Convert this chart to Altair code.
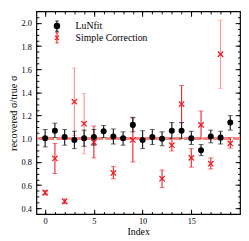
import altair as alt
import pandas as pd

# LuNfit
idx_black = list(range(20))
val_black = [1.005, 1.07, 1.015, 0.99, 1.005, 1.015, 1.065, 1.02, 1.005, 1.12,
             0.99, 1.015, 1.0, 1.07, 1.07, 1.005, 0.90, 1.02, 1.01, 1.14]
lo_black = [0.93, 1.01, 0.945, 0.915, 0.935, 0.945, 1.01, 0.955, 0.945, 1.06,
            0.915, 0.95, 0.94, 1.005, 1.005, 0.95, 0.855, 0.965, 0.955, 1.075]
hi_black = [1.08, 1.135, 1.08, 1.065, 1.075, 1.08, 1.115, 1.085, 1.06, 1.185,
            1.07, 1.08, 1.06, 1.14, 1.14, 1.065, 0.95, 1.075, 1.065, 1.20]

# Simple Correction
idx_red = [0, 1, 2, 3, 4, 5, 7, 9, 12, 13, 14, 15, 16, 17, 18, 19]
val_red = [0.535, 0.83, 0.46, 1.32, 1.13, 0.97, 0.705, 0.99, 0.655, 0.945,
           1.30, 0.835, 1.12, 0.785, 1.73, 0.96]
lo_red = [0.515, 0.70, 0.44, 1.03, 0.87, 0.835, 0.655, 0.80, 0.58, 0.895,
          1.14, 0.755, 1.0, 0.74, 1.435, 0.92]
hi_red = [0.555, 0.96, 0.48, 1.61, 1.39, 1.11, 0.76, 1.18, 0.73, 1.0,
          1.46, 0.915, 1.24, 0.835, 2.025, 1.01]

series_names = ["LuNfit", "Simple Correction"]
x_major = [0, 5, 10, 15]
x_minor = list(range(0, 20))
y_major = [0.4, 0.6, 0.8, 1.0, 1.2, 1.4, 1.6, 1.8, 2.0]
y_minor = [round(0.4 + 0.05 * i, 2) for i in range(34)]

black = pd.DataFrame({"Index": idx_black, "v": val_black, "lo": lo_black,
                      "hi": hi_black, "series": series_names[0]})
red = pd.DataFrame({"Index": idx_red, "v": val_red, "lo": lo_red,
                    "hi": hi_red, "series": series_names[1]})
red["big"] = (red["hi"] - red["lo"]) > 0.45
both = pd.concat([black, red], ignore_index=True)

W, H = 208, 207
FONT = "Liberation Serif"
xs = alt.Scale(domain=[-0.9, 20], nice=False, zero=False)
ys = alt.Scale(domain=[0.35, 2.1], nice=False, zero=False)


def tick_axis(orient, values, size, offset):
    return alt.Axis(orient=orient, values=values, tickSize=size, offset=offset,
                    labels=False, title=None, domain=False, grid=False,
                    tickColor="black", tickWidth=1)


main_x = alt.Axis(orient="bottom", values=x_major, ticks=False, domain=False,
                  grid=False, labelFont=FONT, labelFontSize=8.5, labelColor="black",
                  labelPadding=3, title="Index", titleFont=FONT, titleFontSize=10,
                  titleFontWeight="normal", titleColor="black", titlePadding=1)
main_y = alt.Axis(orient="left", values=y_major, ticks=False, domain=False,
                  grid=False, labelFont=FONT, labelFontSize=8.5, labelColor="black",
                  labelPadding=5, format=".1f", title="recovered σ/true σ",
                  titleFont=FONT, titleFontSize=10.5, titleFontWeight="normal",
                  titleColor="black", titlePadding=3)

ref_line = alt.Chart(red).mark_rule(color="#f4847f", strokeWidth=2,
                                    strokeDash=[7, 3]).encode(
    y=alt.Y(datum=1.0, scale=ys, axis=None)
)

red_bars = alt.Chart(red).mark_rule(strokeWidth=1.2).encode(
    x=alt.X("Index:Q", scale=xs, axis=main_x),
    y=alt.Y("lo:Q", scale=ys, axis=main_y),
    y2="hi:Q",
    color=alt.condition("datum.big", alt.value("#f49a9a"), alt.value("#e8333a")),
)
red_caps_lo = alt.Chart(red).mark_tick(orient="horizontal", size=5, thickness=1).encode(
    x=alt.X("Index:Q", scale=xs, axis=tick_axis("top", x_major, 5, -H)),
    y=alt.Y("lo:Q", scale=ys, axis=tick_axis("right", y_major, 5, -W)),
    color=alt.condition("datum.big", alt.value("#f49a9a"), alt.value("#e8333a")),
)
red_caps_hi = alt.Chart(red).mark_tick(orient="horizontal", size=5, thickness=1).encode(
    x=alt.X("Index:Q", scale=xs, axis=tick_axis("top", x_minor, 2.5, -H)),
    y=alt.Y("hi:Q", scale=ys, axis=tick_axis("right", y_minor, 2.5, -W)),
    color=alt.condition("datum.big", alt.value("#f49a9a"), alt.value("#e8333a")),
)

black_bars = alt.Chart(black).mark_rule(strokeWidth=1.2, color="#222222").encode(
    x=alt.X("Index:Q", scale=xs, axis=tick_axis("bottom", x_major, 5, -H)),
    y=alt.Y("lo:Q", scale=ys, axis=tick_axis("left", y_major, 5, -W)),
    y2="hi:Q",
)
black_caps_lo = alt.Chart(black).mark_tick(orient="horizontal", size=5, thickness=1,
                                           color="#222222").encode(
    x=alt.X("Index:Q", scale=xs, axis=tick_axis("bottom", x_minor, 2.5, -H)),
    y=alt.Y("lo:Q", scale=ys, axis=tick_axis("left", y_minor, 2.5, -W)),
)
black_caps_hi = alt.Chart(black).mark_tick(orient="horizontal", size=5, thickness=1,
                                           color="#222222").encode(
    x=alt.X("Index:Q", scale=xs, axis=None),
    y=alt.Y("hi:Q", scale=ys, axis=None),
)

xpath = "M-1,-1L1,1M-1,1L1,-1"
leg_circle = ("M0,-1.9L0,1.9M-0.6,-1.9L0.6,-1.9M-0.6,1.9L0.6,1.9"
              "M1,0A1,1 0 1,1 -1,0A1,1 0 1,1 1,0Z")
leg_x = "M0,-1.9L0,1.9M-0.6,-1.9L0.6,-1.9M-0.6,1.9L0.6,1.9M-0.8,-0.8L0.8,0.8M-0.8,0.8L0.8,-0.8"

red_pts = alt.Chart(red).mark_point(shape=xpath, size=30, filled=False,
                                    strokeWidth=1.3, color="#ee1c25", opacity=1).encode(
    x=alt.X("Index:Q", scale=xs, axis=None),
    y=alt.Y("v:Q", scale=ys, axis=None),
)
black_pts = alt.Chart(black).mark_circle(size=38, color="black", opacity=1).encode(
    x=alt.X("Index:Q", scale=xs, axis=None),
    y=alt.Y("v:Q", scale=ys, axis=None),
)

legend_layer = alt.Chart(both).mark_point(opacity=0, size=30, strokeWidth=1.1).encode(
    x=alt.X("Index:Q", scale=xs, axis=None),
    y=alt.Y("v:Q", scale=ys, axis=None),
    color=alt.Color("series:N", scale=alt.Scale(domain=series_names,
                                                range=["black", "#ee1c25"]),
                    legend=alt.Legend(orient="none", legendX=16, legendY=9, title=None,
                                      labelFont=FONT, labelFontSize=10,
                                      labelColor="black", symbolOpacity=1,
                                      symbolSize=30, symbolStrokeWidth=1.1,
                                      rowPadding=0, clipHeight=12, labelOffset=14,
                                      padding=0)),
    fill=alt.Fill("series:N", scale=alt.Scale(domain=series_names,
                                              range=["black", "transparent"])),
    shape=alt.Shape("series:N", scale=alt.Scale(domain=series_names,
                                                range=[leg_circle, leg_x])),
)

chart = alt.layer(
    ref_line, red_bars, red_caps_lo, red_caps_hi,
    black_bars, black_caps_lo, black_caps_hi,
    red_pts, black_pts, legend_layer,
).resolve_axis(x="independent", y="independent").properties(
    width=W, height=H, padding={"left": 0, "top": 0, "right": 0, "bottom": 0},
    background="white",
).configure_view(stroke="black", strokeWidth=1.2)

chart.save("out.html", embed_options={"renderer": "svg", "actions": False})
